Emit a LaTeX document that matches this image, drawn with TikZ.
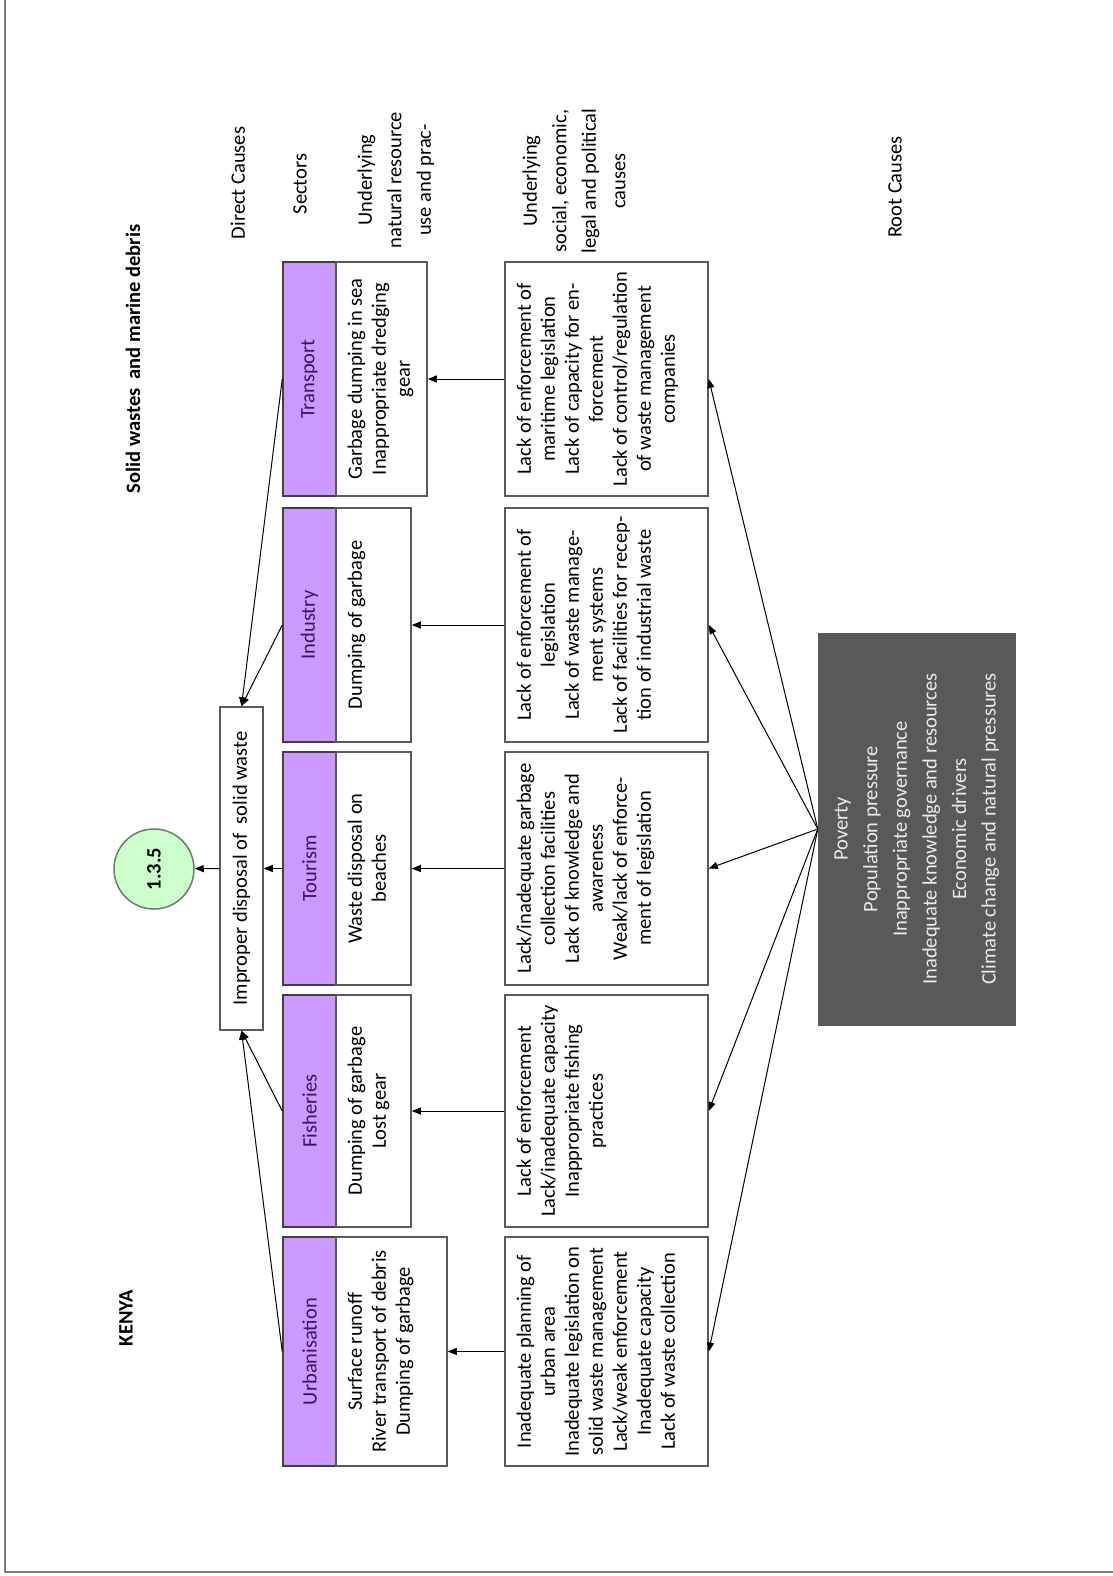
\documentclass[tikz,border=0pt]{standalone}
\usepackage{fontspec}
\setmainfont{Carlito}
\usetikzlibrary{arrows.meta}
\definecolor{purp}{RGB}{204,153,255}
\definecolor{purptext}{RGB}{60,20,90}
\definecolor{boxline}{RGB}{90,90,90}
\definecolor{rootfill}{RGB}{89,89,89}
\definecolor{circfill}{RGB}{204,255,204}
\definecolor{circline}{RGB}{100,130,100}
\definecolor{frameline}{RGB}{128,128,128}
% #1 = extent along text (image y), #2 = extent across text (image x)
\newcommand{\boxtext}[3]{\parbox[c][#2pt][t]{#1pt}{\centering\vspace*{9pt}\strut#3}}
\tikzset{
  basefont/.style={font=\fontsize{20.5}{24}\selectfont},
  cbox/.style={draw=boxline, line width=1.5pt, fill=white, rotate=90, inner sep=0pt, basefont},
  head/.style={draw=black!75, line width=1.5pt, fill=purp, rotate=90, inner sep=0pt,
               text=purptext, basefont, minimum height=53pt},
  arr/.style={-{Triangle[length=9pt,width=7pt]}, line width=1pt, black},
  lbl/.style={rotate=90, align=center, font=\fontsize{20.5}{29.5}\selectfont},
  boldlbl/.style={rotate=90, align=center, font=\fontsize{20.5}{29.5}\selectfont\bfseries}
}
\begin{document}
\begin{tikzpicture}[x=1pt,y=-1pt]
\useasboundingbox (0,0) rectangle (1113,1576);
% frame
\draw[frameline, line width=2pt] (5,0) -- (5,1572) -- (1113,1572);

% titles and column labels
\node[boldlbl] (title) at (133,359) {Solid wastes \ and marine debris};
\node[boldlbl] (kenya) at (126,1318) {KENYA};
\node[lbl] (hdirect) at (238,183) {Direct Causes};
\node[lbl] (hsect) at (300,184) {Sectors};
\node[lbl] (hnat) at (396,180) {Underlying\\natural resource\\use and prac-};
\node[lbl] (hsoc) at (574,181) {Underlying\\social, economic,\\legal and political\\causes};
\node[lbl] (hroot) at (895,187) {Root Causes};

% outcome
\node[circle, minimum size=80pt, inner sep=0pt, fill=circfill, draw=circline, line width=1.5pt,
      rotate=90, font=\fontsize{20.5}{24}\selectfont\bfseries] (c135) at (154,869) {1.3.5};
\node[draw=boxline, line width=1.5pt, fill=white, rotate=90, inner sep=0pt,
      minimum width=323pt, minimum height=43pt, basefont] (imp) at (241.5,868.5)
      {Improper disposal of \ solid waste};

% sector headers
\node[head, minimum width=234pt] (hT) at (309.5,379) {Transport};
\node[head, minimum width=234pt] (hI) at (309.5,625) {Industry};
\node[head, minimum width=233pt] (hTo) at (309.5,868.5) {Tourism};
\node[head, minimum width=232pt] (hF) at (309.5,1111) {Fisheries};
\node[head, minimum width=229pt] (hU) at (309.5,1351.5) {Urbanisation};

% direct causes per sector
\node[cbox] (sT) at (381.5,379) {\boxtext{234}{91}{Garbage dumping in sea\\Inappropriate dredging\\gear}};
\node[cbox] (sI) at (373.5,625) {\boxtext{234}{75}{Dumping of garbage}};
\node[cbox] (sTo) at (373.5,868.5) {\boxtext{233}{75}{Waste disposal on\\beaches}};
\node[cbox] (sF) at (373.5,1111) {\boxtext{232}{75}{Dumping of garbage\\Lost gear}};
\node[cbox] (sU) at (391.5,1351.5) {\boxtext{229}{111}{Surface runoff\\River transport of debris\\Dumping of garbage}};

% underlying causes
\node[cbox] (lT) at (606.5,379) {\boxtext{234}{203}{Lack of enforcement of\\maritime legislation\\Lack of capacity for en-\\forcement\\Lack of control/regulation\\of waste management\\companies}};
\node[cbox] (lI) at (606.5,625) {\boxtext{234}{203}{Lack of enforcement of\\legislation\\Lack of waste manage-\\ment systems\\Lack of facilities for recep-\\tion of industrial waste}};
\node[cbox] (lTo) at (606.5,868.5) {\boxtext{233}{203}{Lack/inadequate garbage\\collection facilities\\Lack of knowledge and\\awareness\\Weak/lack of enforce-\\ment of legislation}};
\node[cbox] (lF) at (606.5,1111) {\boxtext{232}{203}{Lack of enforcement\\Lack/inadequate capacity\\Inappropriate fishing\\practices}};
\node[cbox] (lU) at (606.5,1351.5) {\boxtext{229}{203}{Inadequate planning of\\urban area\\Inadequate legislation on\\solid waste management\\Lack/weak enforcement\\Inadequate capacity\\Lack of waste collection}};

% root causes
\node[draw=rootfill, fill=rootfill, rotate=90, inner sep=0pt, text=white!92!black,
      font=\fontsize{20.5}{29.6}\selectfont] (root) at (916.5,829)
  {\boxtext{392}{197}{Poverty\\Population pressure\\Inappropriate governance\\Inadequate knowledge and resources\\Economic drivers\\Climate change and natural pressures}};

% connectors
\draw[arr] (imp.north) -- (c135);
\draw[arr] (hTo.north) -- (imp.south);
\draw[arr] (hT.north) -- (imp.east);
\draw[arr] (hI.north) -- (imp.east);
\draw[arr] (hF.north) -- (imp.west);
\draw[arr] (hU.north) -- (imp.west);
\foreach \a/\b in {lT/sT, lI/sI, lTo/sTo, lF/sF, lU/sU}{
  \draw[arr] (\a.north) -- (\b.south);
}
\foreach \b in {lT, lI, lTo, lF, lU}{
  \draw[arr] (root.north) -- (\b.south);
}
\end{tikzpicture}
\end{document}
